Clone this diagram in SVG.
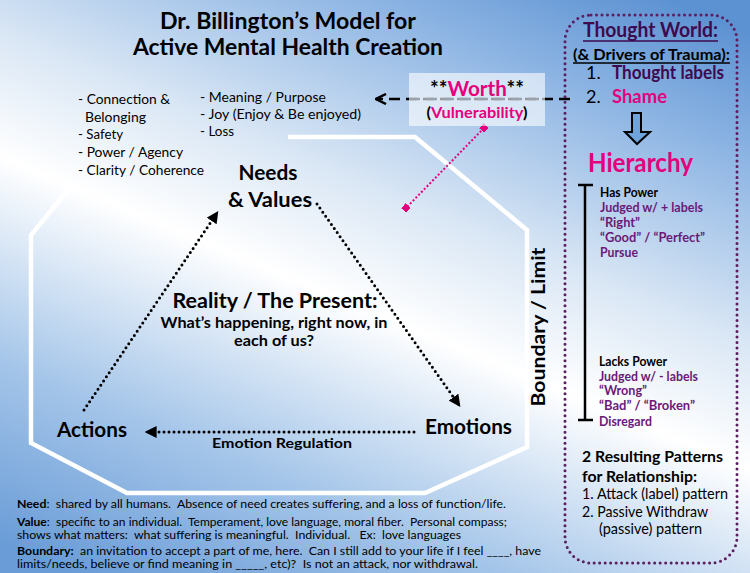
<svg xmlns="http://www.w3.org/2000/svg" width="750" height="573" viewBox="0 0 750 573">
<defs>
<linearGradient id="bg" gradientUnits="userSpaceOnUse" x1="184" y1="620" x2="476" y2="-80">
<stop offset="0" stop-color="#6a9cd7"/>
<stop offset="0.22" stop-color="#a4c5e9"/>
<stop offset="0.47" stop-color="#ffffff"/>
<stop offset="0.62" stop-color="#dae7f5"/>
<stop offset="0.85" stop-color="#8cb4e3"/>
<stop offset="1" stop-color="#5d92d2"/>
</linearGradient>
<marker id="ah" viewBox="0 0 10 10" refX="8" refY="5" markerWidth="4" markerHeight="4" orient="auto" markerUnits="strokeWidth">
<path d="M0,0 L10,5 L0,10 z" fill="#000"/>
</marker>
<marker id="oa" viewBox="0 0 10 10" refX="9" refY="5" markerWidth="5" markerHeight="5" orient="auto" markerUnits="strokeWidth">
<path d="M1,1 L9,5 L1,9" fill="none" stroke="#000" stroke-width="2"/>
</marker>
<marker id="sq" viewBox="0 0 10 10" refX="5" refY="5" markerWidth="3.5" markerHeight="3.5" orient="auto" markerUnits="strokeWidth">
<rect x="0" y="0" width="10" height="10" fill="#e4007c"/>
</marker>
</defs>
<style>
text{font-family:Lato,"Open Sans","Liberation Sans",sans-serif;fill:#000}
.b{font-weight:bold}
.pk{fill:#e4007c}
.pu{fill:#6a1a78}
.dp{fill:#3d0a4e}
.dot{fill:none;stroke:#000;stroke-width:3;stroke-dasharray:0 5;stroke-linecap:round}
</style>
<rect x="0" y="0" width="750" height="573" fill="url(#bg)"/>

<g id="boundary">
<polyline points="288,137 415,137 527,230 527,447 425,493 127,493 31,443 31,235 72,185" fill="none" stroke="#fff" stroke-width="4.5" stroke-linejoin="miter"/>
<text class="b" font-size="19" text-anchor="middle" transform="translate(545,327) rotate(-90)" textLength="159" lengthAdjust="spacingAndGlyphs">Boundary / Limit</text>
</g>

<g id="title">
<text class="b" font-size="22" x="288" y="29" text-anchor="middle" textLength="256" lengthAdjust="spacingAndGlyphs">Dr. Billington’s Model for</text>
<text class="b" font-size="22" x="288" y="55" text-anchor="middle" textLength="310" lengthAdjust="spacingAndGlyphs">Active Mental Health Creation</text>
</g>

<g id="needs-list" font-size="13.5">
<text x="78" y="104" textLength="92" lengthAdjust="spacingAndGlyphs">- Connection &amp;</text>
<text x="85" y="122" textLength="61" lengthAdjust="spacingAndGlyphs">Belonging</text>
<text x="78" y="139" textLength="45" lengthAdjust="spacingAndGlyphs">- Safety</text>
<text x="78" y="157" textLength="105" lengthAdjust="spacingAndGlyphs">- Power / Agency</text>
<text x="78" y="175" textLength="126" lengthAdjust="spacingAndGlyphs">- Clarity / Coherence</text>
<text x="200" y="102" textLength="126" lengthAdjust="spacingAndGlyphs">- Meaning / Purpose</text>
<text x="200" y="119" textLength="161" lengthAdjust="spacingAndGlyphs">- Joy (Enjoy &amp; Be enjoyed)</text>
<text x="200" y="136" textLength="34" lengthAdjust="spacingAndGlyphs">- Loss</text>
</g>

<g id="connectors">
<line class="dot" x1="84" y1="410" x2="217" y2="213" marker-end="url(#ah)"/>
<line class="dot" x1="317" y1="204" x2="459" y2="405" marker-end="url(#ah)"/>
<line class="dot" x1="414" y1="432" x2="147" y2="432" marker-end="url(#ah)"/>
<line x1="570" y1="99" x2="376" y2="99" stroke="#000" stroke-width="2.5" stroke-dasharray="11 6" marker-end="url(#oa)"/>
<line x1="484" y1="128" x2="406" y2="208" stroke="#e4007c" stroke-width="2" stroke-dasharray="2 2" marker-start="url(#sq)" marker-end="url(#sq)"/>
</g>

<g id="worth">
<rect x="409" y="73" width="136" height="53" fill="#fff" fill-opacity="0.6"/>
<line x1="409" y1="99" x2="545" y2="99" stroke="#9aa3ad" stroke-width="2.5" stroke-dasharray="11 6"/>
<text class="b" font-size="20" x="477" y="96" text-anchor="middle" textLength="94" lengthAdjust="spacingAndGlyphs">**<tspan class="pk">Worth</tspan>**</text>
<text class="b" font-size="15" x="477" y="118" text-anchor="middle" textLength="101" lengthAdjust="spacingAndGlyphs">(<tspan class="pk">Vulnerability</tspan>)</text>
</g>

<g id="needs-values">
<text class="b" font-size="20" x="268" y="180" text-anchor="middle" textLength="59" lengthAdjust="spacingAndGlyphs">Needs</text>
<text class="b" font-size="20" x="270" y="207" text-anchor="middle" textLength="84" lengthAdjust="spacingAndGlyphs">&amp; Values</text>
</g>

<g id="reality">
<text class="b" font-size="20" x="275" y="308" text-anchor="middle" textLength="205" lengthAdjust="spacingAndGlyphs">Reality / The Present:</text>
<text class="b" font-size="15" x="274" y="328" text-anchor="middle" textLength="227" lengthAdjust="spacingAndGlyphs">What’s happening, right now, in</text>
<text class="b" font-size="15" x="274" y="346" text-anchor="middle" textLength="80" lengthAdjust="spacingAndGlyphs">each of us?</text>
</g>

<g id="actions">
<text class="b" font-size="20" x="57" y="437" textLength="70" lengthAdjust="spacingAndGlyphs">Actions</text>
</g>
<g id="emotions">
<text class="b" font-size="20" x="425" y="434" textLength="87" lengthAdjust="spacingAndGlyphs">Emotions</text>
</g>
<g id="emotion-regulation">
<text class="b" font-size="14" x="212" y="448" textLength="140" lengthAdjust="spacingAndGlyphs">Emotion Regulation</text>
</g>

<g id="thought-world">
<rect x="565" y="15" width="172" height="548" rx="26" fill="none" stroke="#5a1d5e" stroke-width="3" stroke-dasharray="0 5.5" stroke-linecap="round"/>
<text class="b dp" font-size="20" x="583" y="37" textLength="135" lengthAdjust="spacingAndGlyphs">Thought World:</text>
<line x1="583" y1="41" x2="718" y2="41" stroke="#3d0a4e" stroke-width="1.5"/>
<text class="b" font-size="15" x="573" y="60" textLength="157" lengthAdjust="spacingAndGlyphs">(&amp; Drivers of Trauma):</text>
<line x1="573" y1="63" x2="730" y2="63" stroke="#000" stroke-width="1.3"/>
<text font-size="18" x="586" y="79">1.</text>
<text class="b dp" font-size="18" x="612" y="79" textLength="112" lengthAdjust="spacingAndGlyphs">Thought labels</text>
<text font-size="18" x="586" y="103">2.</text>
<text class="b pk" font-size="18" x="612" y="103" textLength="55" lengthAdjust="spacingAndGlyphs">Shame</text>
<path d="M632,113 H641 V132 H650 L637,144 L625,132 H632 Z" fill="#6fa3dc" stroke="#000" stroke-width="2" stroke-linejoin="miter"/>
<text class="b pk" font-size="26" x="588" y="172" textLength="105" lengthAdjust="spacingAndGlyphs">Hierarchy</text>
<path d="M585,185 V420 M578,185 H593 M578,420 H593" stroke="#000" stroke-width="2.5" fill="none"/>
<g font-size="12.5">
<text class="b" x="600" y="197" textLength="58" lengthAdjust="spacingAndGlyphs">Has Power</text>
<text class="b pu" x="600" y="212" textLength="103" lengthAdjust="spacingAndGlyphs">Judged w/ + labels</text>
<text class="b pu" x="600" y="227" textLength="40" lengthAdjust="spacingAndGlyphs">“Right”</text>
<text class="b pu" x="600" y="242" textLength="105" lengthAdjust="spacingAndGlyphs">“Good” / “Perfect”</text>
<text class="b pu" x="600" y="257" textLength="38" lengthAdjust="spacingAndGlyphs">Pursue</text>
<text class="b" x="599" y="366" textLength="68" lengthAdjust="spacingAndGlyphs">Lacks Power</text>
<text class="b pu" x="599" y="381" textLength="99" lengthAdjust="spacingAndGlyphs">Judged w/ - labels</text>
<text class="b pu" x="599" y="395" textLength="48" lengthAdjust="spacingAndGlyphs">“Wrong”</text>
<text class="b pu" x="599" y="410" textLength="96" lengthAdjust="spacingAndGlyphs">“Bad” / “Broken”</text>
<text class="b pu" x="599" y="426" textLength="53" lengthAdjust="spacingAndGlyphs">Disregard</text>
</g>
<text class="b" font-size="16" x="582" y="462" textLength="141" lengthAdjust="spacingAndGlyphs">2 Resulting Patterns</text>
<text class="b" font-size="16" x="582" y="482" textLength="115" lengthAdjust="spacingAndGlyphs">for Relationship:</text>
<text font-size="15" x="582" y="499" textLength="146" lengthAdjust="spacingAndGlyphs">1. Attack (label) pattern</text>
<text font-size="15" x="582" y="517" textLength="126" lengthAdjust="spacingAndGlyphs">2. Passive Withdraw</text>
<text font-size="15" x="599" y="534" textLength="103" lengthAdjust="spacingAndGlyphs">(passive) pattern</text>
</g>

<g id="definitions" font-size="11">
<text x="17" y="508" textLength="489" lengthAdjust="spacingAndGlyphs" xml:space="preserve"><tspan class="b">Need</tspan>:  shared by all humans.  Absence of need creates suffering, and a loss of function/life.</text>
<text x="17" y="526" textLength="490" lengthAdjust="spacingAndGlyphs" xml:space="preserve"><tspan class="b">Value</tspan>:  specific to an individual.  Temperament, love language, moral fiber.  Personal compass;</text>
<text x="17" y="539" textLength="444" lengthAdjust="spacingAndGlyphs" xml:space="preserve">shows what matters:  what suffering is meaningful.  Individual.   Ex:  love languages</text>
<text x="17" y="555" textLength="524" lengthAdjust="spacingAndGlyphs" xml:space="preserve"><tspan class="b">Boundary:</tspan>  an invitation to accept a part of me, here.  Can I still add to your life if I feel ____, have</text>
<text x="17" y="568" textLength="461" lengthAdjust="spacingAndGlyphs" xml:space="preserve">limits/needs, believe or find meaning in _____, etc)?  Is not an attack, nor withdrawal.</text>
</g>
</svg>
